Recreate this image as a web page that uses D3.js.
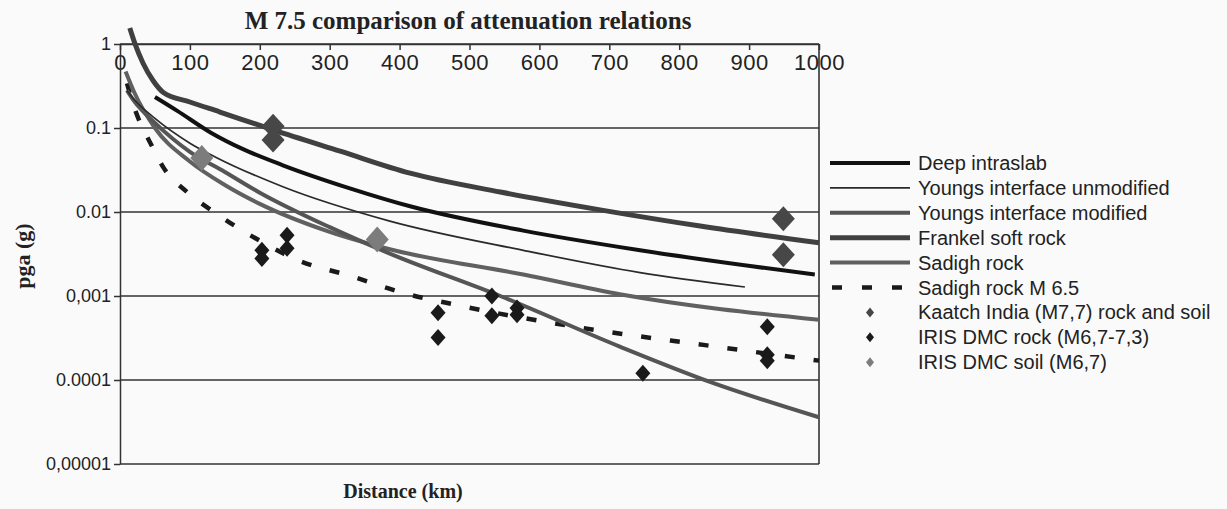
<!DOCTYPE html>
<html>
<head>
<meta charset="utf-8">
<script src="https://cdn.jsdelivr.net/npm/d3@7"></script>
<style>
  html, body { margin: 0; padding: 0; background: #fafafa; }
  svg { display: block; }
  .axis text { font-family: "Liberation Sans", Arial, sans-serif; fill: #222; }
  .axis line, .axis path { stroke: #333; stroke-width: 1.5; }
</style>
</head>
<body>
<div id="chart"></div>
<script>
    'use strict';

    // values: distance (km) and pga (g)
    var frankelDist = [14, 21, 33, 47, 62, 100, 143, 219, 315, 415, 544, 687, 830, 1000],
        frankelPga = [1.55, 1.03, 0.59, 0.37, 0.265, 0.204, 0.155, 0.095, 0.053, 0.029, 0.0173, 0.0106, 0.0068, 0.0043],

        deepDist = [50, 82, 130, 176, 233, 330, 415, 577, 744, 994],
        deepPga = [0.234, 0.16, 0.088, 0.056, 0.036, 0.019, 0.0117, 0.006, 0.0035, 0.0018],

        youngsDist = [10, 20, 50, 100, 139, 233, 386, 577, 744, 894],
        youngsPga = [0.28, 0.22, 0.13, 0.066, 0.044, 0.02, 0.0078, 0.0035, 0.0019, 0.00128],

        youngsModDist = [10, 20, 50, 100, 150, 200, 300, 386, 544, 715, 844, 1000],
        youngsModPga = [0.28, 0.21, 0.115, 0.052, 0.03, 0.017, 0.0066, 0.0032, 0.001, 0.00025, 0.000095, 0.000036],

        sadighDist = [8, 20, 50, 100, 150, 200, 300, 386, 577, 715, 1000],
        sadighPga = [0.47, 0.27, 0.1, 0.04, 0.021, 0.0125, 0.0058, 0.0036, 0.0018, 0.00105, 0.00052],

        sadigh65Dist = [10, 19, 46, 62, 97, 136, 197, 253, 333, 403, 482, 675, 837, 1000],
        sadigh65Pga = [0.34, 0.19, 0.06, 0.034, 0.017, 0.0098, 0.0047, 0.0027, 0.0017, 0.0011, 0.00078, 0.0004, 0.00026, 0.00017],

        kaatchDist = [219, 219, 949, 949],
        kaatchPga = [0.105, 0.072, 0.0083, 0.0031],

        irisRockDist = [203, 203, 239, 239, 455, 455, 532, 532, 568, 568, 748, 926, 926, 926],
        irisRockPga = [0.0035, 0.0028, 0.0053, 0.0037, 0.00063, 0.00032, 0.001, 0.00058, 0.00072, 0.0006, 0.00012, 0.00043, 0.0002, 0.00017],

        irisSoilDist = [117, 368],
        irisSoilPga = [0.044, 0.0047],

        xTickValues = [0, 100, 200, 300, 400, 500, 600, 700, 800, 900, 1000],
        yTickValues = [1, 0.1, 0.01, 0.001, 0.0001, 0.00001],
        yTickLabels = ['1', '0.1', '0.01', '0,001', '0.0001', '0,00001'];

    var chartWidth = 1227,
        chartHeight = 509,
        plotLeft = 120,
        plotRight = 819,
        plotTop = 44,
        plotBottom = 464;

    var lines = [
        { name: 'Deep intraslab', dist: deepDist, pga: deepPga, color: '#111', width: 4, dash: null },
        { name: 'Youngs interface unmodified', dist: youngsDist, pga: youngsPga, color: '#2a2a2a', width: 1.7, dash: null },
        { name: 'Youngs interface modified', dist: youngsModDist, pga: youngsModPga, color: '#555', width: 4, dash: null },
        { name: 'Frankel soft rock', dist: frankelDist, pga: frankelPga, color: '#404040', width: 5, dash: null },
        { name: 'Sadigh rock', dist: sadighDist, pga: sadighPga, color: '#606060', width: 4, dash: null },
        { name: 'Sadigh rock M 6.5', dist: sadigh65Dist, pga: sadigh65Pga, color: '#1a1a1a', width: 4.5, dash: '10,19' }
    ];

    var points = [
        { name: 'Kaatch India (M7,7) rock and soil', dist: kaatchDist, pga: kaatchPga, color: '#474747', w: 11.5, h: 12.5 },
        { name: 'IRIS DMC rock (M6,7-7,3)', dist: irisRockDist, pga: irisRockPga, color: '#1a1a1a', w: 7.5, h: 8.5 },
        { name: 'IRIS DMC soil (M6,7)', dist: irisSoilDist, pga: irisSoilPga, color: '#7c7c7c', w: 11.5, h: 13 }
    ];

    var x = d3.scaleLinear().domain([0, 1000]).range([plotLeft, plotRight]),
        y = d3.scaleLog().domain([0.00001, 1]).range([plotBottom, plotTop]);

    var diamond = function (w, h) {
        return 'M0,' + (-h) + 'L' + w + ',0L0,' + h + 'L' + (-w) + ',0Z';
    };

    var svg = d3.select('#chart').append('svg')
        .attr('width', chartWidth)
        .attr('height', chartHeight);

    svg.append('rect')
        .attr('width', chartWidth)
        .attr('height', chartHeight)
        .attr('fill', '#fafafa');

    // gridlines and right border
    svg.append('g').selectAll('line')
        .data(yTickValues)
        .enter()
        .append('line')
        .attr('x1', plotLeft)
        .attr('x2', plotRight)
        .attr('y1', function (d) { return y(d); })
        .attr('y2', function (d) { return y(d); })
        .attr('stroke', '#333')
        .attr('stroke-width', 1.6);

    svg.append('line')
        .attr('x1', plotRight).attr('x2', plotRight)
        .attr('y1', plotTop).attr('y2', plotBottom)
        .attr('stroke', '#333')
        .attr('stroke-width', 1.6);

    // axes
    svg.append('g')
        .attr('class', 'axis')
        .attr('transform', 'translate(0,' + plotTop + ')')
        .call(d3.axisBottom(x).tickValues(xTickValues).tickSize(6).tickSizeOuter(0).tickPadding(4)
            .tickFormat(function (d) { return String(d); }))
        .selectAll('text')
        .style('font-size', '22px')
        .style('letter-spacing', '0.5px');

    svg.append('g')
        .attr('class', 'axis')
        .attr('transform', 'translate(' + plotLeft + ',0)')
        .call(d3.axisLeft(y).tickValues(yTickValues).tickSize(6).tickSizeOuter(0).tickPadding(3)
            .tickFormat(function (d, i) { return yTickLabels[i]; }))
        .selectAll('text')
        .style('font-size', '18px');

    // curves
    var line = d3.line()
        .x(function (d) { return x(d[0]); })
        .y(function (d) { return y(d[1]); })
        .curve(d3.curveMonotoneX);

    svg.append('g').selectAll('path')
        .data(lines.slice().reverse())
        .enter()
        .append('path')
        .attr('d', function (s) {
            return line(s.dist.map(function (d, i) { return [d, s.pga[i]]; }));
        })
        .attr('fill', 'none')
        .attr('stroke', function (s) { return s.color; })
        .attr('stroke-width', function (s) { return s.width; })
        .attr('stroke-dasharray', function (s) { return s.dash; });

    // observations
    points.forEach(function (s) {
        svg.append('g').selectAll('path')
            .data(s.dist.map(function (d, i) { return [d, s.pga[i]]; }))
            .enter()
            .append('path')
            .attr('transform', function (d) { return 'translate(' + x(d[0]) + ',' + y(d[1]) + ')'; })
            .attr('d', diamond(s.w, s.h))
            .attr('fill', s.color);
    });

    // titles
    svg.append('text')
        .attr('x', 468)
        .attr('y', 29)
        .attr('text-anchor', 'middle')
        .style('font-family', '"Liberation Serif", "Times New Roman", serif')
        .style('font-weight', 'bold')
        .style('font-size', '25px')
        .attr('fill', '#222')
        .text('M 7.5 comparison of attenuation relations');

    svg.append('text')
        .attr('x', 403)
        .attr('y', 498)
        .attr('text-anchor', 'middle')
        .style('font-family', '"Liberation Serif", "Times New Roman", serif')
        .style('font-weight', 'bold')
        .style('font-size', '20px')
        .attr('fill', '#222')
        .text('Distance (km)');

    svg.append('text')
        .attr('transform', 'translate(30,256) rotate(-90)')
        .attr('text-anchor', 'middle')
        .style('font-family', '"Liberation Serif", "Times New Roman", serif')
        .style('font-weight', 'bold')
        .style('font-size', '22px')
        .attr('fill', '#222')
        .text('pga (g)');

    // legend
    var legend = svg.append('g'),
        rowY = function (i) { return 163 + i * 24.9; };

    lines.forEach(function (s, i) {
        legend.append('line')
            .attr('x1', s.dash ? 832 : 830)
            .attr('x2', 910)
            .attr('y1', rowY(i))
            .attr('y2', rowY(i))
            .attr('stroke', s.color)
            .attr('stroke-width', s.width)
            .attr('stroke-dasharray', s.dash ? '10,20' : null);
    });

    points.forEach(function (s, i) {
        legend.append('path')
            .attr('transform', 'translate(870,' + rowY(i + lines.length) + ')')
            .attr('d', diamond(4, 5))
            .attr('fill', s.color);
    });

    legend.selectAll('text')
        .data(lines.concat(points))
        .enter()
        .append('text')
        .attr('x', 918)
        .attr('y', function (d, i) { return rowY(i); })
        .attr('dy', '0.35em')
        .style('font-family', '"Liberation Sans", Arial, sans-serif')
        .style('font-size', '20px')
        .attr('fill', '#222')
        .text(function (d) { return d.name; });
</script>
</body>
</html>
